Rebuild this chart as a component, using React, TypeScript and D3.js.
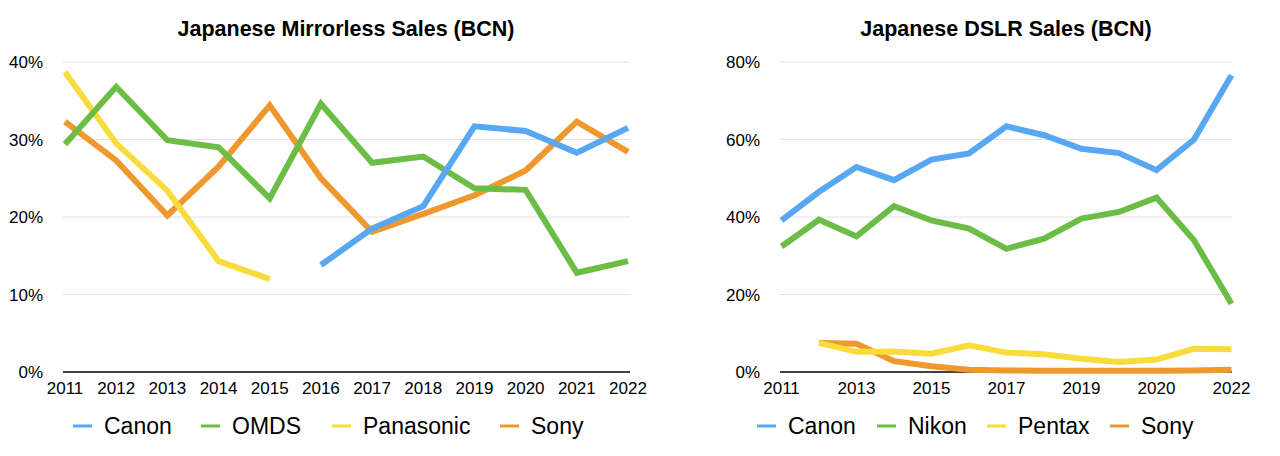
import React from "react";
import * as d3 from "d3";

// ---------- Data ----------
const mirrorlessYears = ["2011","2012","2013","2014","2015","2016","2017","2018","2019","2020","2021","2022"];
const mirrorlessCanon: (number | null)[] = [null, null, null, null, null, 13.8, 18.5, 21.4, 31.7, 31.1, 28.3, 31.5];
const mirrorlessOMDS: (number | null)[] = [29.4, 36.8, 29.9, 29.0, 22.4, 34.6, 27.0, 27.8, 23.7, 23.5, 12.8, 14.3];
const mirrorlessPanasonic: (number | null)[] = [38.7, 29.5, 23.4, 14.3, 12.0, null, null, null, null, null, null, null];
const mirrorlessSony: (number | null)[] = [32.3, 27.3, 20.2, 26.5, 34.4, 25.0, 18.1, 20.4, 22.8, 26.0, 32.3, 28.4];
const mirrorlessTicks = [0, 10, 20, 30, 40];

const dslrPeriods = ["2011","2012","2013","2014","2015","2016","2017","2018","2019","2019-20","2020","2021","2022"];
const dslrTickLabels = ["2011","","2013","","2015","","2017","","2019","","2020","","2022"];
const dslrCanon: (number | null)[] = [39.1, 46.5, 52.9, 49.5, 54.8, 56.4, 63.4, 61.1, 57.6, 56.5, 52.1, 60.0, 76.6];
const dslrNikon: (number | null)[] = [32.4, 39.3, 35.0, 42.8, 39.1, 37.0, 31.8, 34.4, 39.6, 41.3, 45.0, 34.0, 17.6];
const dslrPentax: (number | null)[] = [null, 7.5, 5.2, 5.3, 4.7, 6.9, 5.0, 4.6, 3.4, 2.6, 3.2, 6.0, 5.9];
const dslrSony: (number | null)[] = [null, 7.5, 7.3, 2.8, 1.5, 0.6, 0.4, 0.3, 0.3, 0.3, 0.3, 0.4, 0.6];
const dslrTicks = [0, 20, 40, 60, 80];

const BLUE = "#57a7f3";
const GREEN = "#6bbd45";
const YELLOW = "#f9dc3b";
const ORANGE = "#ee982e";

const FONT = "'Liberation Sans', Arial, Helvetica, sans-serif";

type Series = { name: string; values: (number | null)[]; color: string };

type PanelProps = {
  title: string;
  titleX: number;
  categories: string[];
  tickLabels: string[];
  series: Series[];
  yTicks: number[];
  yMax: number;
  gridX0: number;
  gridX1: number;
  ptX0: number;
  ptX1: number;
  legendX: number[];
};

const yTop = 62;
const yBottom = 372;

function Panel(p: PanelProps) {
  const x = d3.scalePoint<string>().domain(p.categories).range([p.ptX0, p.ptX1]);
  const y = d3.scaleLinear().domain([0, p.yMax]).range([yBottom, yTop]);
  const line = d3
    .line<{ c: string; v: number | null }>()
    .defined((d) => d.v != null)
    .x((d) => x(d.c) as number)
    .y((d) => y(d.v as number));

  return (
    <g>
      <text x={p.titleX} y={36} textAnchor="middle" fontSize={21.5} fontWeight="bold" fontFamily={FONT} fill="#000">
        {p.title}
      </text>
      {p.yTicks.map((t) => (
        <g key={t}>
          {t !== 0 && (
            <line x1={p.gridX0} x2={p.gridX1} y1={y(t)} y2={y(t)} stroke="#e2e2e2" strokeWidth={1} />
          )}
          <text x={p.gridX0 - 20} y={y(t)} dy="0.36em" textAnchor="end" fontSize={17} fontFamily={FONT} fill="#000">
            {t}%
          </text>
        </g>
      ))}
      <line x1={p.gridX0} x2={p.gridX1} y1={yBottom} y2={yBottom} stroke="#000" strokeWidth={1.5} />
      {p.categories.map((c, i) => (
        <text key={c} x={x(c) as number} y={yBottom + 22} textAnchor="middle" fontSize={17} fontFamily={FONT} fill="#000">
          {p.tickLabels[i]}
        </text>
      ))}
      {[...p.series].reverse().map((s) => (
        <path
          key={s.name}
          d={line(p.categories.map((c, i) => ({ c, v: s.values[i] }))) || ""}
          fill="none"
          stroke={s.color}
          strokeWidth={6}
          strokeLinejoin="miter"
        />
      ))}
      {p.series.map((s, i) => (
        <g key={s.name} transform={`translate(${p.legendX[i]},426)`}>
          <line x1={0} x2={19} y1={0} y2={0} stroke={s.color} strokeWidth={3} />
          <text x={31} y={0} dy="0.36em" fontSize={23} fontFamily={FONT} fill="#000">
            {s.name}
          </text>
        </g>
      ))}
    </g>
  );
}

export default function App() {
  return (
    <svg
      width={1280}
      height={456}
      style={{ position: "absolute", left: 0, top: 0, background: "#fff" }}
    >
      <rect width={1280} height={456} fill="#fff" />
      <Panel
        title="Japanese Mirrorless Sales (BCN)"
        titleX={346}
        categories={mirrorlessYears}
        tickLabels={mirrorlessYears}
        series={[
          { name: "Canon", values: mirrorlessCanon, color: BLUE },
          { name: "OMDS", values: mirrorlessOMDS, color: GREEN },
          { name: "Panasonic", values: mirrorlessPanasonic, color: YELLOW },
          { name: "Sony", values: mirrorlessSony, color: ORANGE },
        ]}
        yTicks={mirrorlessTicks}
        yMax={40}
        gridX0={63}
        gridX1={630}
        ptX0={65}
        ptX1={628}
        legendX={[73, 201, 332, 500]}
      />
      <Panel
        title="Japanese DSLR Sales (BCN)"
        titleX={1006}
        categories={dslrPeriods}
        tickLabels={dslrTickLabels}
        series={[
          { name: "Canon", values: dslrCanon, color: BLUE },
          { name: "Nikon", values: dslrNikon, color: GREEN },
          { name: "Pentax", values: dslrPentax, color: YELLOW },
          { name: "Sony", values: dslrSony, color: ORANGE },
        ]}
        yTicks={dslrTicks}
        yMax={80}
        gridX0={780}
        gridX1={1232}
        ptX0={781.5}
        ptX1={1231.5}
        legendX={[757, 877, 987, 1110]}
      />
    </svg>
  );
}
